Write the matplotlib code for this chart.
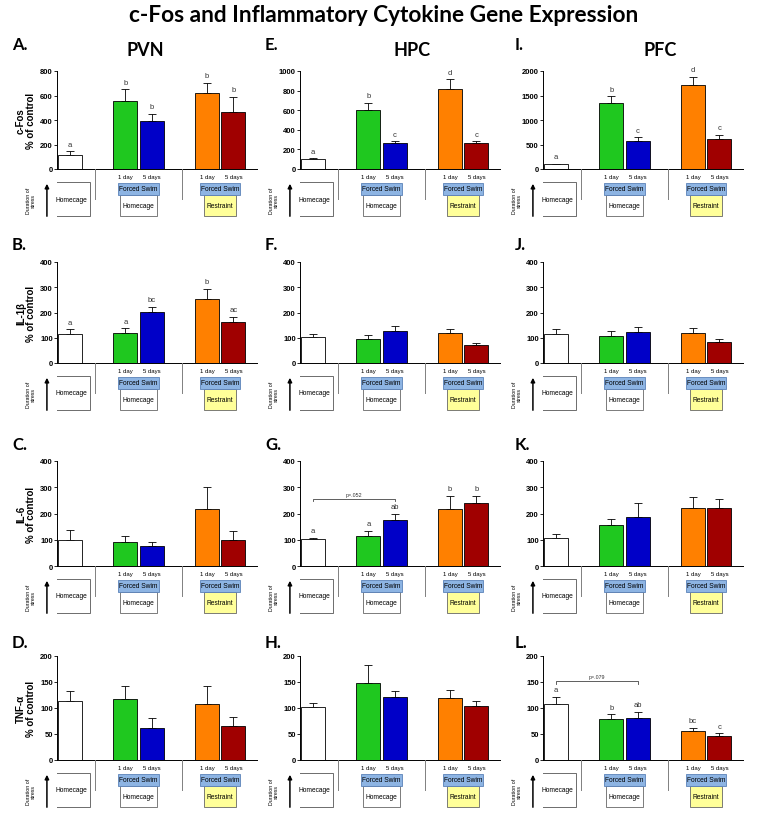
import matplotlib
matplotlib.use("Agg")
import matplotlib.pyplot as plt
from matplotlib.patches import Rectangle

FIG_W, FIG_H = 762, 828

# grupos y colores
group_names = ["Homecage", "FS 1 day", "FS 5 days", "Restraint 1 day", "Restraint 5 days"]
bar_colors = ["white", "#1fc81f", "#0000c8", "#ff8000", "#a00000"]
bar_x = [0, 2.3, 3.4, 5.7, 6.8]
day_labels = ["1 day", "5 days", "1 day", "5 days"]

regions = ["PVN", "HPC", "PFC"]
genes = ["c-Fos", "IL-1β", "IL-6", "TNF-α"]
panel_letters = [["A.", "E.", "I."], ["B.", "F.", "J."], ["C.", "G.", "K."], ["D.", "H.", "L."]]

# c-Fos
cfos_pvn = [117, 556, 388, 618, 469]
cfos_pvn_sem = [27, 95, 65, 87, 122]
cfos_pvn_sig = ["a", "b", "b", "b", "b"]
cfos_hpc = [102, 600, 268, 814, 264]
cfos_hpc_sem = [10, 78, 13, 101, 17]
cfos_hpc_sig = ["a", "b", "c", "d", "c"]
cfos_pfc = [96, 1349, 568, 1712, 603]
cfos_pfc_sem = [14, 137, 76, 172, 96]
cfos_pfc_sig = ["a", "b", "c", "d", "c"]

# IL-1b
il1b_pvn = [113, 117, 203, 252, 162]
il1b_pvn_sem = [20, 20, 20, 43, 21]
il1b_pvn_sig = ["a", "a", "bc", "b", "ac"]
il1b_hpc = [104, 95, 125, 120, 72]
il1b_hpc_sem = [12, 15, 22, 14, 7]
il1b_pfc = [113, 108, 124, 117, 83]
il1b_pfc_sem = [23, 17, 18, 21, 12]

# IL-6
il6_pvn = [100, 93, 75, 218, 100]
il6_pvn_sem = [38, 20, 17, 82, 35]
il6_hpc = [102, 115, 177, 217, 240]
il6_hpc_sem = [6, 20, 23, 51, 28]
il6_hpc_sig = ["a", "a", "ab", "b", "b"]
il6_pfc = [107, 155, 188, 221, 220]
il6_pfc_sem = [16, 23, 52, 41, 36]

# TNF-a
tnf_pvn = [113, 118, 62, 108, 66]
tnf_pvn_sem = [20, 24, 18, 34, 17]
tnf_hpc = [101, 148, 122, 119, 103]
tnf_hpc_sem = [9, 35, 11, 15, 11]
tnf_pfc = [108, 79, 81, 56, 46]
tnf_pfc_sem = [14, 9, 12, 6, 5]
tnf_pfc_sig = ["a", "b", "ab", "bc", "c"]

ticks_cfos_pvn = [0, 200, 400, 600, 800]
ticks_cfos_hpc = [0, 200, 400, 600, 800, 1000]
ticks_cfos_pfc = [0, 500, 1000, 1500, 2000]
ticks_il = [0, 100, 200, 300, 400]
ticks_tnf = [0, 50, 100, 150, 200]

# brackets: (grupo izq, grupo der, altura, texto)
bracket_il6_hpc = (0, 2, 256, "p=.052")
bracket_tnf_pfc = (0, 2, 152, "p=.079")

panels = [
    [(cfos_pvn, cfos_pvn_sem, cfos_pvn_sig, ticks_cfos_pvn, None),
     (cfos_hpc, cfos_hpc_sem, cfos_hpc_sig, ticks_cfos_hpc, None),
     (cfos_pfc, cfos_pfc_sem, cfos_pfc_sig, ticks_cfos_pfc, None)],
    [(il1b_pvn, il1b_pvn_sem, il1b_pvn_sig, ticks_il, None),
     (il1b_hpc, il1b_hpc_sem, None, ticks_il, None),
     (il1b_pfc, il1b_pfc_sem, None, ticks_il, None)],
    [(il6_pvn, il6_pvn_sem, None, ticks_il, None),
     (il6_hpc, il6_hpc_sem, il6_hpc_sig, ticks_il, bracket_il6_hpc),
     (il6_pfc, il6_pfc_sem, None, ticks_il, None)],
    [(tnf_pvn, tnf_pvn_sem, None, ticks_tnf, None),
     (tnf_hpc, tnf_hpc_sem, None, ticks_tnf, None),
     (tnf_pfc, tnf_pfc_sem, tnf_pfc_sig, ticks_tnf, bracket_tnf_pfc)],
]

col_left = [57, 300, 543]
col_width = 200
row_span = [(72, 170), (263, 364), (462, 567), (657, 761)]
XLIM = (-0.55, 7.78)
COND_H = 52

plt.rcParams["font.family"] = ["Liberation Sans", "DejaVu Sans"]


def caja(px_left, px_top, px_w, px_h):
    return [px_left / FIG_W, 1 - (px_top + px_h) / FIG_H, px_w / FIG_W, px_h / FIG_H]


def dibujar_panel(ax, valores, sem, sig, ticks, bracket):
    ax.bar(bar_x, valores, width=1.0, color=bar_colors, edgecolor="black",
           linewidth=0.6, zorder=2)
    ax.errorbar(bar_x, valores, yerr=[[0] * len(sem), sem], fmt="none", ecolor="black",
                elinewidth=0.6, capsize=2.8, capthick=0.6, zorder=1)
    ax.set_xlim(XLIM)
    ax.set_ylim(ticks[0], ticks[-1])
    ax.set_yticks(ticks)
    ax.set_xticks([])
    ax.tick_params(axis="y", length=2, width=0.6, pad=1, labelsize=5.5)
    for lab in ax.get_yticklabels():
        lab.set_fontweight("bold")
    for s in ["top", "right"]:
        ax.spines[s].set_visible(False)
    ax.spines["left"].set_linewidth(0.7)
    ax.spines["bottom"].set_linewidth(0.7)
    if sig:
        for x, v, e, s in zip(bar_x, valores, sem, sig):
            ax.annotate(s, (x, v + e), xytext=(0, 2.5), textcoords="offset points",
                        ha="center", va="bottom", fontsize=5.5, color="#333333")
    if bracket:
        i, j, y, txt = bracket
        d = (ticks[-1] - ticks[0]) * 0.025
        ax.plot([bar_x[i], bar_x[i], bar_x[j], bar_x[j]], [y - d, y, y, y - d],
                color="#444444", lw=0.6)
        ax.text((bar_x[i] + bar_x[j]) / 2, y + d * 0.6, txt, ha="center", va="bottom",
                fontsize=3.8, color="#333333")


def dibujar_condiciones(axc):
    axc.set_xlim(XLIM)
    axc.set_ylim(COND_H, 0)
    axc.axis("off")
    for sx in [1.03, 4.66]:
        axc.plot([sx, sx], [0, 30], color="#808080", lw=0.7)
    for x, lab in zip(bar_x[1:], day_labels):
        axc.text(x, 8, lab, ha="center", va="center", fontsize=4.3)
    # homecage
    axc.add_patch(Rectangle((-0.72, 13), 1.55, 34, facecolor="white", edgecolor="#555555", lw=0.6))
    axc.text(0.05, 30, "Homecage", ha="center", va="center", fontsize=4.8)
    # forced swim + homecage / restraint
    for cx, fondo, texto, hw in [(2.85, "white", "Homecage", 0.77), (6.25, "#ffff99", "Restraint", 0.67)]:
        axc.add_patch(Rectangle((cx - hw, 25.5), 2 * hw, 21.5, facecolor=fondo,
                                edgecolor="#666666", lw=0.6))
        axc.text(cx, 36.5, texto, ha="center", va="center", fontsize=4.8)
        axc.add_patch(Rectangle((cx - 0.84, 14), 1.68, 11.5, facecolor="#8db4e3",
                                edgecolor="#5b82b8", lw=0.6))
        axc.text(cx, 19.8, "Forced Swim", ha="center", va="center", fontsize=4.8)
    axc.annotate("", xy=(-0.97, 12), xytext=(-0.97, 50), annotation_clip=False,
                 arrowprops=dict(arrowstyle="-|>", lw=1.1, color="black", mutation_scale=6))
    axc.text(-1.62, 31, "Duration of\nstress", rotation=90, ha="center", va="center",
             fontsize=3.8, linespacing=1.0)


fig = plt.figure(figsize=(FIG_W / 100, FIG_H / 100), dpi=100)

for r, fila in enumerate(panels):
    top, bottom = row_span[r]
    for c, (vals, sem, sig, ticks, bracket) in enumerate(fila):
        ax = fig.add_axes(caja(col_left[c], top, col_width, bottom - top))
        dibujar_panel(ax, vals, sem, sig, ticks, bracket)
        axc = fig.add_axes(caja(col_left[c], bottom, col_width, COND_H))
        dibujar_condiciones(axc)
        if c == 0:
            ax.set_ylabel(genes[r] + "\n% of control", fontsize=7, fontweight="bold",
                          labelpad=3, linespacing=1.0)
        lx = [12, 265, 515][c]
        ly = [45, 245, 445, 643][r]
        fig.text(lx / FIG_W, 1 - ly / FIG_H, panel_letters[r][c], fontsize=12,
                 fontweight="bold", family="Lato", va="center", ha="left")

for x, reg in zip([145, 412, 660], regions):
    fig.text(x / FIG_W, 1 - 50 / FIG_H, reg, fontsize=13, fontweight="bold",
             family="Lato", ha="center", va="center")

fig.text(384 / FIG_W, 1 - 15 / FIG_H, "c-Fos and Inflammatory Cytokine Gene Expression",
         fontsize=16.3, fontweight="bold", family="Lato", ha="center", va="center")

fig.savefig("out.png", dpi=100)
